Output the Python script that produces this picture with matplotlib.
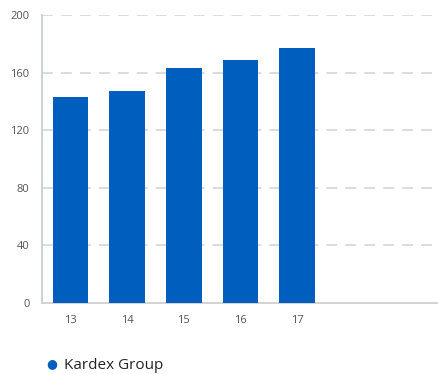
import matplotlib.pyplot as plt

# Kardex Group yearly values
years = ["13", "14", "15", "16", "17", "18", "19"]
values = [143, 147, 163, 169, 177, None, None]
series_name = "Kardex Group"
yticks = [0, 40, 80, 120, 160, 200]

bar_color = "#005EBF"
text_color = "#555555"

plt.rcParams['font.family'] = ['Open Sans', 'DejaVu Sans']

fig = plt.figure(figsize=(4.39, 3.74), dpi=100)
ax = fig.add_axes([0.096, 0.19, 0.904, 0.77])

xs = [i for i, v in enumerate(values) if v is not None]
hs = [v for v in values if v is not None]
ax.bar(xs, hs, width=0.63, color=bar_color, zorder=3)

ax.set_xlim(-0.5, len(years) - 0.5)
ax.set_ylim(0, 200)
ax.set_yticks(yticks)
ax.set_yticklabels([str(t) for t in yticks])
ax.set_xticks(xs)
ax.set_xticklabels([years[i] for i in xs])

for t in yticks[1:]:
    ax.axhline(t, color="#d9d9d9", lw=1.3, ls=(0, (6, 4.5)), zorder=1)

for s in ["top", "right"]:
    ax.spines[s].set_visible(False)
ax.spines["left"].set_color("#c5cfd9")
ax.spines["left"].set_linewidth(1.3)
ax.spines["bottom"].set_color("#d0d0d0")
ax.spines["bottom"].set_linewidth(1.3)

ax.tick_params(axis="both", length=0, labelsize=8, colors=text_color)
ax.tick_params(axis="y", pad=9)
ax.tick_params(axis="x", pad=9)

# legend: dot marker plus series name below the plot
fig.text(0.118, 0.029, "\u25CF", color=bar_color, fontsize=9, va="center", ha="center")
fig.text(0.145, 0.024, series_name, color="#222222", fontsize=11, va="center", ha="left")

fig.savefig("out.png", dpi=100)
